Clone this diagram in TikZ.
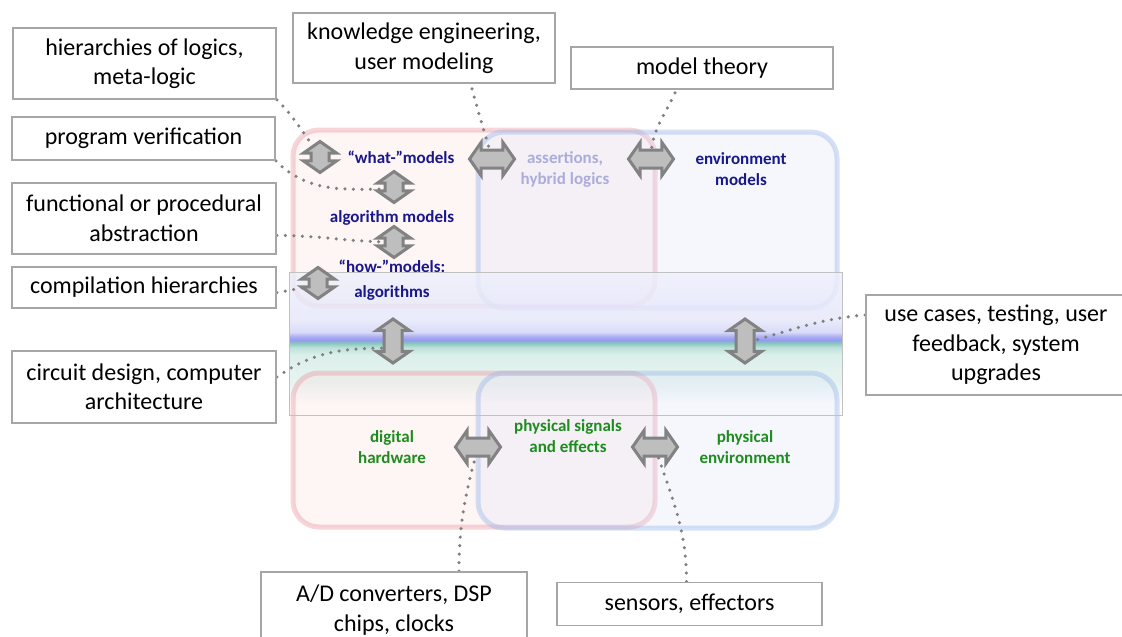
\documentclass[tikz,border=0pt]{standalone}
\usepackage{fontspec}
\setmainfont{Carlito}
\usetikzlibrary{shapes.arrows}
\definecolor{navy}{RGB}{24,24,140}
\definecolor{grn}{RGB}{30,140,30}
\definecolor{asrcol}{RGB}{172,172,220}
\definecolor{calgray}{RGB}{166,166,166}
\definecolor{dotgray}{RGB}{128,128,128}
\definecolor{arrfill}{RGB}{190,190,190}
\definecolor{arrborder}{RGB}{130,130,130}
\definecolor{boxred}{RGB}{236,150,160}
\definecolor{boxredfill}{RGB}{252,222,222}
\definecolor{boxblue}{RGB}{150,180,232}
\definecolor{boxbluefill}{RGB}{218,226,250}
\definecolor{bandC}{RGB}{226,242,238}
\definecolor{bandD}{RGB}{212,236,230}
\definecolor{bandE}{RGB}{172,218,208}
\definecolor{bandF}{RGB}{100,182,170}
\definecolor{bandG}{RGB}{122,132,236}
\definecolor{bandH}{RGB}{150,152,240}
\definecolor{bandI}{RGB}{208,210,248}
\definecolor{bandJ}{RGB}{228,230,250}
\definecolor{bandK}{RGB}{238,240,252}
\pgfdeclareverticalshading{bandsh}{100bp}{color(0bp)=(white); color(25bp)=(white); color(29bp)=(white); color(36bp)=(bandC); color(46bp)=(bandD); color(48.6bp)=(bandE); color(50.3bp)=(bandF); color(51.2bp)=(bandG); color(52.4bp)=(bandH); color(54bp)=(bandI); color(58bp)=(bandJ); color(75bp)=(bandK); color(100bp)=(bandK)}
\pgfdeclarelayer{back}
\pgfdeclarelayer{conn}
\pgfsetlayers{back,conn,main}
\tikzset{
  callout/.style={draw=calgray, line width=1.8pt, fill=white, align=center, inner sep=0pt,
    font=\fontsize{24}{29.5}\selectfont},
  lbl/.style={align=center, inner sep=0pt, font=\fontsize{17}{21}\selectfont\bfseries},
  garrow/.style={double arrow, draw=arrborder, fill=arrfill, line width=3pt, inner sep=0pt,
    inner ysep=7.5pt, double arrow head extend=7.5pt, double arrow tip angle=110},
  dotline/.style={draw=dotgray, line width=3.5pt, line cap=round, dash pattern=on 0pt off 8.5pt},
  redbox/.style={rounded corners=26pt, draw=boxred, line width=5pt, fill=boxredfill,
    fill opacity=0.28, draw opacity=0.4},
  bluebox/.style={rounded corners=26pt, draw=boxblue, line width=5pt, fill=boxbluefill,
    fill opacity=0.26, draw opacity=0.4},
}
\begin{document}
\begin{tikzpicture}[x=1pt,y=1pt]
\useasboundingbox (0,0) rectangle (1122,-637);
\clip (0,0) rectangle (1122,-637);
\begin{pgfonlayer}{back}
\fill[white] (0,0) rectangle (1122,-637);
\path[redbox] (293,-130) rectangle (655,-306);
\path[bluebox] (478,-132) rectangle (837,-308);
\shade[shading=bandsh, fill opacity=0.8] (289,-272) rectangle (842,-415);
\path[redbox] (293,-373) rectangle (655,-527);
\path[bluebox] (478,-373) rectangle (837,-528);
\draw[draw=calgray!70, line width=0.8pt] (289,-272) rectangle (842,-415);
\end{pgfonlayer}
% callouts
\node[callout, minimum width=263pt, minimum height=71pt] (hier) at (144.5,-63.5) {hierarchies of logics,\\meta-logic};
\node[callout, minimum width=262pt, minimum height=70pt] (know) at (424,-48) {knowledge engineering,\\user modeling};
\node[callout, minimum width=262pt, minimum height=42pt] (mt) at (702,-68) {model theory};
\node[callout, minimum width=263pt, minimum height=43pt] (pv) at (143.5,-138.5) {program verification};
\node[callout, minimum width=264pt, minimum height=71pt] (fp) at (144,-218.5) {functional or procedural\\abstraction};
\node[callout, minimum width=264pt, minimum height=41pt] (ch) at (144,-287.5) {compilation hierarchies};
\node[callout, minimum width=264pt, minimum height=72pt] (cd) at (144,-387) {circuit design, computer\\architecture};
\node[callout, minimum width=260pt, minimum height=100pt] (uc) at (996,-345) {use cases, testing, user\\feedback, system\\upgrades};
\node[callout, minimum width=266pt, minimum height=76pt] (ad) at (394,-610) {A/D converters, DSP\\chips, clocks};
\node[callout, minimum width=265pt, minimum height=43pt] (se) at (689.5,-604) {sensors, effectors};
% arrows
\node[garrow, rotate=90, minimum height=31pt] (a1) at (320,-157) {};
\node[garrow, rotate=90, minimum height=31pt] (a2) at (394,-187) {};
\node[garrow, rotate=90, minimum height=31pt] (a3) at (394,-242) {};
\node[garrow, rotate=90, minimum height=31pt] (a4) at (318,-283) {};
\node[garrow, rotate=90, minimum height=44pt] (a5) at (393,-341) {};
\node[garrow, rotate=90, minimum height=44pt] (a6) at (745,-341) {};
\node[garrow, minimum height=45pt] (ah1) at (492,-159) {};
\node[garrow, minimum height=45pt] (ah2) at (651,-159) {};
\node[garrow, minimum height=45pt] (ah3) at (478,-447) {};
\node[garrow, minimum height=45pt] (ah4) at (655,-447) {};
% connectors
\begin{pgfonlayer}{conn}
\draw[dotline] (hier.south east) to[out=-45,in=125] (a1.center);
\draw[dotline] ([xshift=48pt,yshift=-5pt]know.south) to[out=-75,in=105] (ah1.center);
\draw[dotline] ([xshift=-27pt,yshift=-3pt]mt.south) to[out=-115,in=90] (ah2.center);
\draw[dotline] (pv.south east) to[out=-45,in=180] ([yshift=-2pt]a2.center);
\draw[dotline] ([yshift=-17pt]fp.east) to[out=0,in=180] (a3.center);
\draw[dotline] ([yshift=-5pt]ch.east) to[out=10,in=200] (a4.center);
\draw[dotline] ([yshift=10pt]cd.east) to[out=35,in=180] ([yshift=-7pt]a5.center);
\draw[dotline] ([yshift=30pt]uc.west) to[out=185,in=15] ([yshift=-2pt]a6.center);
\draw[dotline] ([xshift=65pt]ad.north) to[out=90,in=-105] (ah3.center);
\draw[dotline] ([xshift=-3pt]se.north) to[out=90,in=-72] (ah4.center);
\end{pgfonlayer}
% labels
\node[lbl, text=navy] (what) at (401,-157) {“what-”models};
\node[lbl, text=navy] (algm) at (392,-218) {algorithm models};
\node[lbl, text=navy] (how) at (392,-280) {“how-”models:\\[4pt]algorithms};
\node[lbl, text=asrcol] (asr) at (565,-169) {assertions,\\hybrid logics};
\node[lbl, text=navy] (env) at (741,-169) {environment\\models};
\node[lbl, text=grn] (dig) at (392,-447) {digital\\hardware};
\node[lbl, text=grn] (sig) at (568,-436) {physical signals\\and effects};
\node[lbl, text=grn] (phe) at (745,-447) {physical\\environment};
\end{tikzpicture}
\end{document}
